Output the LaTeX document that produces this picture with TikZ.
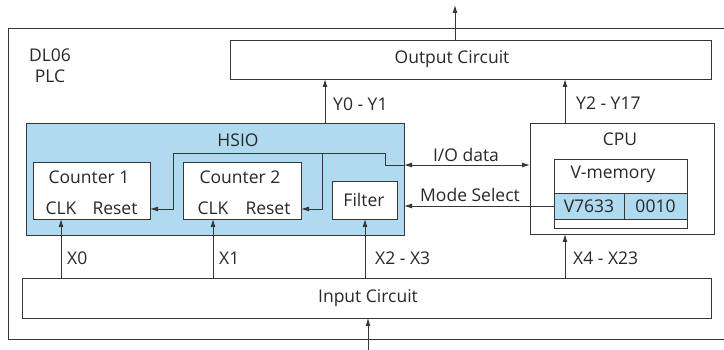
\documentclass[tikz,border=0pt]{standalone}
\usepackage{fontspec}
\setmainfont{Open Sans}
\usetikzlibrary{arrows.meta}
\definecolor{hsioblue}{RGB}{176,218,240}
\definecolor{ln}{RGB}{55,55,55}
\definecolor{tx}{RGB}{40,40,40}
\begin{document}
\begin{tikzpicture}[x=1pt,y=-1pt,
  box/.style={draw=ln, line width=0.9pt, inner sep=0, outer sep=0, anchor=north west},
  txt/.style={font=\fontsize{17.5}{21}\selectfont, text=tx, inner sep=0},
  lbl/.style={txt, anchor=west},
  wire/.style={draw=ln, line width=0.9pt},
  arr/.style={wire, -{Latex[length=8pt,width=5pt]}},
  darr/.style={wire, {Latex[length=8pt,width=5pt]}-{Latex[length=8pt,width=5pt]}},
]
\useasboundingbox (0,0) rectangle (724,350);
% outer PLC frame (open to the right)
\draw[wire] (724,28) -- (8,28) -- (8,339) -- (724,339);
\node[txt, align=center] (plc) at (50,66) {DL06\\PLC};

% boxes
\node[box, minimum width=481, minimum height=39] (out) at (230,40) {};
\node[txt] (outt) at (452,59) {Output Circuit};

\node[box, fill=hsioblue, minimum width=378, minimum height=112] (hsio) at (26,123) {};
\node[txt] (hsiot) at (238,140) {HSIO};

\node[box, fill=white, minimum width=117, minimum height=57] (c1) at (33,162) {};
\node[txt] (c1t) at (89,177) {Counter 1};
\node[txt] (c1clk) at (61,208) {CLK};
\node[txt] (c1rst) at (115,208) {Reset};

\node[box, fill=white, minimum width=118, minimum height=57] (c2) at (183,162) {};
\node[txt] (c2t) at (240,177) {Counter 2};
\node[txt] (c2clk) at (213,208) {CLK};
\node[txt] (c2rst) at (268,208) {Reset};

\node[box, fill=white, minimum width=65, minimum height=38] (filt) at (332,181) {};
\node[txt] (filtt) at (364,200) {Filter};

\node[box, minimum width=184, minimum height=111] (cpu) at (530,123) {};
\node[txt] (cput) at (620,139) {CPU};
\node[box, fill=white, minimum width=133, minimum height=69] (vmem) at (554,159) {};
\node[txt] (vmemt) at (613,174) {V-memory};
\node[box, fill=hsioblue, minimum width=70, minimum height=26] (vreg) at (554,193) {};
\node[box, fill=hsioblue, minimum width=63, minimum height=26] (vval) at (624,193) {};
\node[txt] (vregt) at (vreg.center) {V7633};
\node[txt] (vvalt) at (vval.center) {0010};

\node[box, minimum width=689, minimum height=40] (inp) at (22,278) {};
\node[txt] (inpt) at (368,298) {Input Circuit};

% outputs
\coordinate (outtop) at (455,5);
\draw[arr] (outtop |- out.north) -- (outtop);
\draw[arr] (325,0 |- hsio.north) -- (325,0 |- out.south);
\node[lbl] (y01) at (333,104) {Y0 - Y1};
\draw[arr] (565,0 |- cpu.north) -- (565,0 |- out.south);
\node[lbl] (y217) at (576,103) {Y2 - Y17};

% I/O data and mode select
\draw[darr] (hsio.east |- 0,165) -- (cpu.west |- 0,165);
\node[txt] (iod) at (466,155) {I/O data};
\draw[arr] (vreg.west) -- (hsio.east |- vreg.west);
\node[txt] (mode) at (470,195) {Mode Select};

% reset lines
\draw[arr] (hsio.east |- 0,165) -- (385,165) -- (385,153) -- (173,153) -- (173,209) -- (c1.east |- 0,209);
\draw[arr] (322,153) -- (322,209) -- (c2.east |- 0,209);

% inputs
\coordinate (inbot) at (368,350);
\draw[arr] (inbot) -- (inbot |- inp.south);
\draw[arr] (61,0 |- inp.north) -- (61,0 |- c1.south);
\node[lbl] (x0) at (67,258) {X0};
\draw[arr] (213,0 |- inp.north) -- (213,0 |- c2.south);
\node[lbl] (x1) at (219,258) {X1};
\draw[arr] (365,0 |- inp.north) -- (365,0 |- filt.south);
\node[lbl] (x23) at (375,258) {X2 - X3};
\draw[arr] (565,0 |- inp.north) -- (565,0 |- cpu.south);
\node[lbl] (x423) at (573,258) {X4 - X23};
\end{tikzpicture}
\end{document}
